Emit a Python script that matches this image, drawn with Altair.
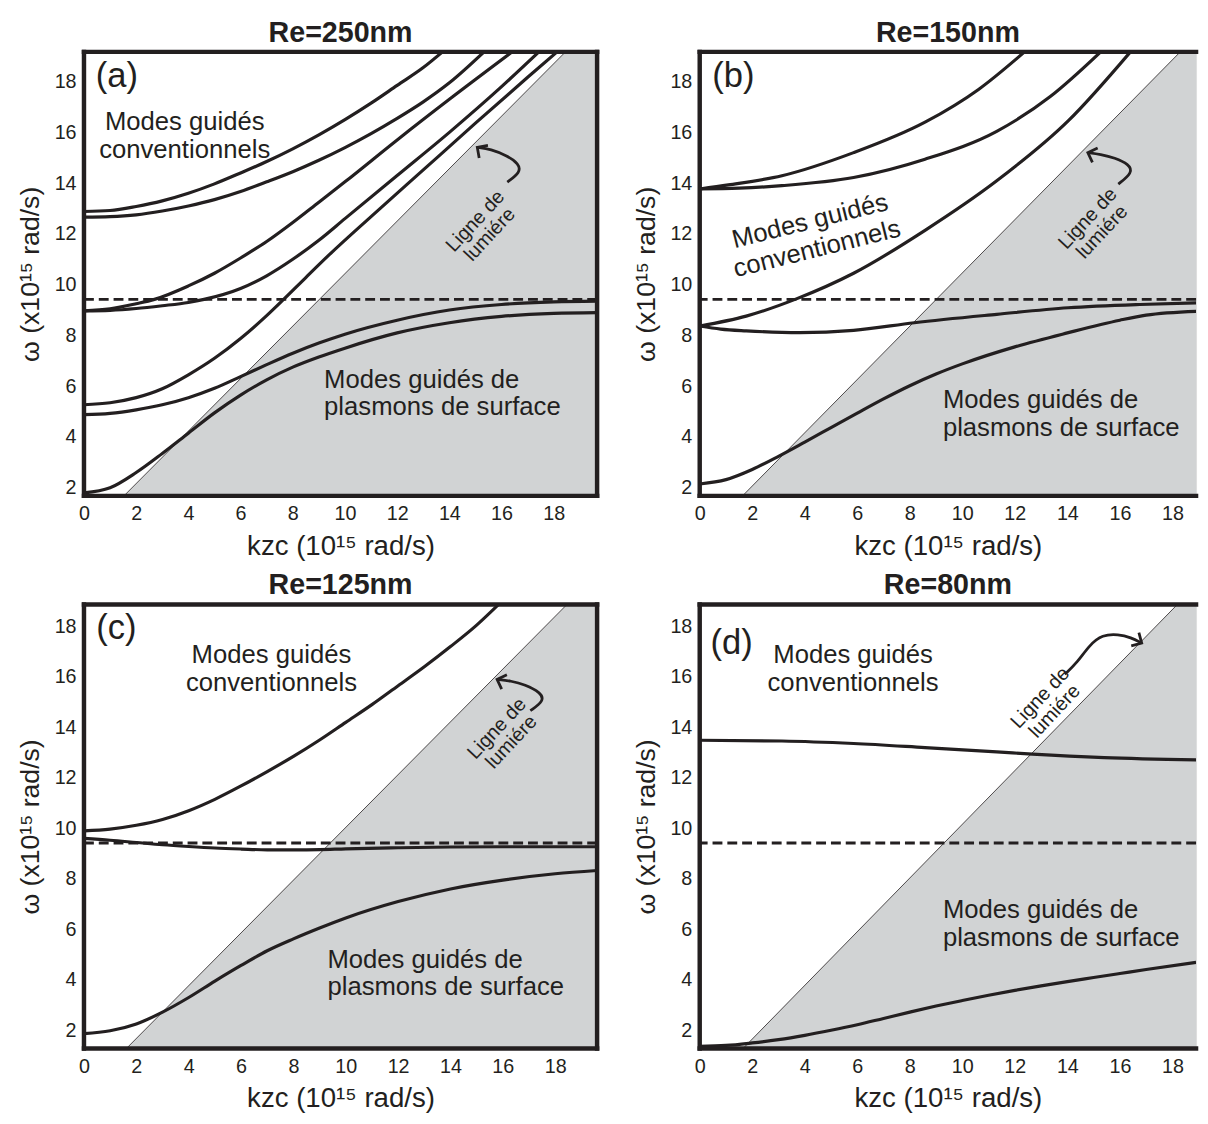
import altair as alt
import pandas as pd

FONT = "Liberation Sans"
INK = "#231f20"
GRAY = "#d1d3d4"

X_TICKS = [0, 2, 4, 6, 8, 10, 12, 14, 16, 18]
Y_TICKS = [2, 4, 6, 8, 10, 12, 14, 16, 18]
X_TITLE = "kzc (10¹⁵ rad/s)"
Y_TITLE = "ω (x10¹⁵ rad/s)"
DASH_W = 9.42

# ---------------- panel (a) Re=250nm ----------------
A_TITLE = "Re=250nm"
A_RANGE_K = [0, 19.66]
A_RANGE_W = [1.68, 19.17]
A_LIGHT_K = [1.53, 18.45]
A_LIGHT_W = [1.68, 19.17]
A1_K = [0, 1, 2, 3, 4, 5, 6, 7, 8, 9, 10, 11, 12, 13, 13.74]
A1_W = [12.88, 12.92, 13.08, 13.3, 13.6, 13.97, 14.4, 14.85, 15.35, 15.9, 16.5, 17.15, 17.85, 18.55, 19.17]
A2_K = [0, 1, 2, 3, 4, 5, 6, 7, 8, 9, 10, 11, 12, 13, 14, 15.33]
A2_W = [12.66, 12.68, 12.75, 12.9, 13.1, 13.35, 13.67, 14.05, 14.45, 14.9, 15.4, 15.95, 16.55, 17.2, 17.95, 19.17]
A3_K = [0, 1, 2, 2.7, 4, 5, 6, 7, 8, 9, 10, 12, 14, 16.41]
A3_W = [8.97, 9.05, 9.25, 9.42, 9.95, 10.45, 11.05, 11.7, 12.45, 13.25, 14.05, 15.7, 17.3, 19.17]
A4_K = [0, 1, 2, 3, 4, 4.6, 6, 7, 8, 9, 10, 12, 14, 16, 17.43]
A4_W = [8.97, 8.99, 9.06, 9.17, 9.3, 9.42, 9.85, 10.35, 11.0, 11.75, 12.6, 14.3, 16.0, 17.8, 19.17]
A5_K = [0, 1, 2, 3, 4, 5, 6, 7, 7.65, 8.5, 9.35, 11, 13, 15, 17, 18.13]
A5_W = [5.27, 5.35, 5.55, 5.9, 6.45, 7.1, 7.88, 8.78, 9.42, 10.28, 11.13, 12.68, 14.52, 16.36, 18.17, 19.17]
A6_K = [0, 1, 2, 3, 4, 5, 6, 7, 8, 9, 10, 12, 14, 16, 18, 19.66]
A6_W = [4.88, 4.93, 5.07, 5.27, 5.55, 5.92, 6.38, 6.85, 7.3, 7.7, 8.05, 8.6, 9.0, 9.22, 9.32, 9.35]
A7_K = [0, 1, 2, 3, 4, 5, 6, 7, 8, 9, 10, 12, 14, 16, 18, 19.66]
A7_W = [1.8, 2.0, 2.6, 3.35, 4.15, 4.95, 5.65, 6.25, 6.75, 7.15, 7.5, 8.1, 8.5, 8.75, 8.87, 8.9]
A_ARROW_K = [16.22, 16.73, 16.66, 16.22, 15.58, 15.07]
A_ARROW_W = [14.04, 14.43, 14.76, 15.08, 15.34, 15.41]

# ---------------- panel (b) Re=150nm ----------------
B_TITLE = "Re=150nm"
B_RANGE_K = [0, 18.9]
B_RANGE_W = [1.68, 19.17]
B_LIGHT_K = [1.63, 18.3]
B_LIGHT_W = [1.68, 19.17]
B1_K = [0, 1.09, 3.13, 5.86, 8.58, 10.63, 12.37]
B1_W = [13.77, 13.93, 14.29, 15.2, 16.4, 17.7, 19.17]
B2_K = [0, 1.5, 3.13, 5.86, 8.58, 11.31, 13.35, 15.27]
B2_W = [13.77, 13.8, 13.9, 14.22, 14.94, 16.04, 17.41, 19.17]
B3_K = [0, 1.77, 3.68, 5.86, 8.58, 11.31, 14.03, 16.4]
B3_W = [8.37, 8.76, 9.44, 10.45, 12.14, 14.09, 16.45, 19.17]
B4_K = [0, 0.8, 1.77, 3.81, 5.86, 8.17, 11.31, 14.03, 16.76, 18.9]
B4_W = [8.37, 8.25, 8.18, 8.11, 8.2, 8.5, 8.83, 9.09, 9.22, 9.28]
B5_K = [0, 1, 2, 3, 4, 5, 6, 7, 8, 9, 10, 12, 14, 16, 17, 18.9]
B5_W = [2.15, 2.32, 2.72, 3.24, 3.8, 4.37, 4.94, 5.5, 6.02, 6.48, 6.88, 7.55, 8.1, 8.6, 8.8, 8.95]
B_ARROW_K = [15.94, 16.49, 16.35, 15.8, 15.26, 14.78]
B_ARROW_W = [13.96, 14.42, 14.74, 15.0, 15.13, 15.2]

# ---------------- panel (c) Re=125nm ----------------
C_TITLE = "Re=125nm"
C_RANGE_K = [0, 19.6]
C_RANGE_W = [1.28, 18.87]
C_LIGHT_K = [1.62, 18.45]
C_LIGHT_W = [1.28, 18.87]
C1_K = [0, 1, 2, 3, 4, 5, 6, 7, 8, 9, 10, 11, 12, 13, 14, 15, 15.84]
C1_W = [9.9, 9.97, 10.12, 10.35, 10.7, 11.15, 11.68, 12.25, 12.85, 13.5, 14.2, 14.9, 15.65, 16.4, 17.2, 18.05, 18.87]
C2_K = [0, 1, 2, 3, 4, 5, 6, 7, 8, 9, 10, 12, 14, 16, 19.6]
C2_W = [9.6, 9.53, 9.44, 9.35, 9.28, 9.22, 9.18, 9.15, 9.15, 9.16, 9.19, 9.23, 9.26, 9.27, 9.27]
C3_K = [0, 1, 2, 3, 4, 5, 6, 7, 8, 9, 10, 12, 14, 16, 18, 19.6]
C3_W = [1.87, 1.98, 2.25, 2.72, 3.3, 3.95, 4.57, 5.15, 5.62, 6.05, 6.45, 7.1, 7.6, 7.95, 8.2, 8.33]
C_ARROW_K = [17.05, 17.58, 17.45, 16.84, 16.31, 15.78]
C_ARROW_W = [14.66, 15.05, 15.38, 15.7, 15.84, 15.9]

# ---------------- panel (d) Re=80nm ----------------
D_TITLE = "Re=80nm"
D_RANGE_K = [0, 18.9]
D_RANGE_W = [1.28, 18.87]
D_LIGHT_K = [1.65, 18.19]
D_LIGHT_W = [1.28, 18.87]
D1_K = [0, 3.13, 5.86, 8.58, 11.31, 12.67, 15.4, 18.9]
D1_W = [13.49, 13.46, 13.36, 13.2, 13.03, 12.94, 12.8, 12.71]
D2_K = [0, 1, 2, 3, 4, 5, 6, 7, 8, 9, 10, 11, 12, 13, 14, 15, 16, 17, 18.9]
D2_W = [1.37, 1.4, 1.5, 1.63, 1.8, 2.0, 2.22, 2.47, 2.72, 2.96, 3.18, 3.39, 3.58, 3.76, 3.93, 4.09, 4.25, 4.41, 4.69]
D_ARROW_K = [13.9, 14.37, 14.85, 15.33, 15.94, 16.42, 16.83]
D_ARROW_W = [16.1, 16.56, 17.27, 17.67, 17.69, 17.56, 17.34]

CHEVRON = "M-1,-1L0,0L-1,1"


def xenc(scale):
    return alt.X("k:Q", scale=scale, axis=alt.Axis(
        values=X_TICKS, title=X_TITLE, labelFontSize=20, titleFontSize=28,
        titleFontWeight="normal", ticks=False, domain=False, grid=False,
        labelPadding=8, titlePadding=9, labelFlush=False, labelOverlap=False,
        labelColor=INK, titleColor=INK, labelFont=FONT, titleFont=FONT))


def yenc(scale):
    return alt.Y("w:Q", scale=scale, axis=alt.Axis(
        values=Y_TICKS, title=Y_TITLE, labelFontSize=20, titleFontSize=27,
        titleFontWeight="normal", ticks=False, domain=False, grid=False,
        labelPadding=8, titlePadding=10, labelFlush=False, labelOverlap=False,
        labelColor=INK, titleColor=INK, labelFont=FONT, titleFont=FONT))


def text_layer(k, w, txt, xs, ys, size=26, angle=0, align="center", lh=28):
    df = pd.DataFrame({"k": [k], "w": [w], "t": [txt]})
    props = dict(fontSize=size, align=align, baseline="middle", color=INK,
                 font=FONT, lineBreak="\n", lineHeight=lh)
    if angle:
        props["angle"] = angle
    return alt.Chart(df).mark_text(**props).encode(x=xenc(xs), y=yenc(ys), text="t:N")


def panel(title, tag, rk, rw, lk, lw, curves, arrow_k, arrow_w, head_angle,
          tag_pos, conv_pos, conv_angle, surf_pos, light_pos, light_angle,
          width, right_border=True):
    xs = alt.Scale(domain=rk, nice=False, zero=False)
    ys = alt.Scale(domain=rw, nice=False, zero=False)

    shade = pd.DataFrame({"k": [lk[0], lk[1], rk[1]],
                          "w": [rw[0], rw[1], rw[1]],
                          "w2": [rw[0]] * 3})
    area = alt.Chart(shade).mark_area(color=GRAY, opacity=1).encode(
        x=xenc(xs), y=yenc(ys), y2="w2:Q")

    light = alt.Chart(pd.DataFrame({"k": lk, "w": lw})).mark_line(
        color=INK, strokeWidth=0.8).encode(x=xenc(xs), y=yenc(ys))

    dashed = alt.Chart(pd.DataFrame({"w": [DASH_W]})).mark_rule(
        color=INK, strokeWidth=3, strokeDash=[10, 5]).encode(y=yenc(ys))

    rows = []
    for i, (ck, cw) in enumerate(curves):
        for a, b in zip(ck, cw):
            rows.append({"c": i, "k": a, "w": b})
    lines = alt.Chart(pd.DataFrame(rows)).mark_line(
        color=INK, strokeWidth=3.2, interpolate="monotone", clip=True).encode(
        x=xenc(xs), y=yenc(ys), detail="c:N")

    adf = pd.DataFrame({"k": arrow_k, "w": arrow_w, "i": list(range(len(arrow_k)))})
    arrow = alt.Chart(adf).mark_line(color=INK, strokeWidth=2.8, interpolate="basis").encode(
        x=xenc(xs), y=yenc(ys), order="i:Q")
    head = alt.Chart(pd.DataFrame({"k": [arrow_k[-1]], "w": [arrow_w[-1]]})).mark_point(
        shape=CHEVRON, filled=False, color=INK, strokeWidth=2.8, size=240,
        angle=head_angle, opacity=1).encode(x=xenc(xs), y=yenc(ys))

    segs = [(rk[0], rw[0], rk[0], rw[1]), (rk[0], rw[1], rk[1], rw[1]),
            (rk[0], rw[0], rk[1], rw[0])]
    if right_border:
        segs.append((rk[1], rw[0], rk[1], rw[1]))
    fdf = pd.DataFrame(segs, columns=["k", "w", "k2", "w2"])
    frame = alt.Chart(fdf).mark_rule(color=INK, strokeWidth=4.5, strokeCap="square").encode(
        x=xenc(xs), y=yenc(ys), x2="k2:Q", y2="w2:Q")

    texts = [
        text_layer(tag_pos[0], tag_pos[1], tag, xs, ys, size=35, align="left"),
        text_layer(conv_pos[0], conv_pos[1], "Modes guidés\nconventionnels", xs, ys,
                   angle=conv_angle, lh=29),
        text_layer(surf_pos[0], surf_pos[1], "Modes guidés de\nplasmons de surface", xs, ys,
                   align="left", lh=28),
        text_layer(light_pos[0], light_pos[1], "Ligne de\nlumiére", xs, ys, size=20,
                   angle=light_angle, lh=20),
    ]

    return alt.layer(area, light, dashed, lines, arrow, head, *texts, frame).properties(
        width=width, height=450,
        title=alt.TitleParams(title, fontSize=29, fontWeight="bold", font=FONT,
                              color=INK, offset=1, anchor="middle"))


pa = panel(A_TITLE, "(a)", A_RANGE_K, A_RANGE_W, A_LIGHT_K, A_LIGHT_W,
           [(A1_K, A1_W), (A2_K, A2_W), (A3_K, A3_W), (A4_K, A4_W),
            (A5_K, A5_W), (A6_K, A6_W), (A7_K, A7_W)],
           A_ARROW_K, A_ARROW_W, 215,
           (0.45, 18.23), (3.86, 16.42), 0, (9.2, 6.26), (15.0, 12.5), 313, 520)
pb = panel(B_TITLE, "(b)", B_RANGE_K, B_RANGE_W, B_LIGHT_K, B_LIGHT_W,
           [(B1_K, B1_W), (B2_K, B2_W), (B3_K, B3_W), (B4_K, B4_W), (B5_K, B5_W)],
           B_ARROW_K, B_ARROW_W, 200,
           (0.48, 18.2), (4.2, 12.5), 346, (9.26, 5.45), (14.78, 12.6), 313, 503,
           right_border=False)
pc = panel(C_TITLE, "(c)", C_RANGE_K, C_RANGE_W, C_LIGHT_K, C_LIGHT_W,
           [(C1_K, C1_W), (C2_K, C2_W), (C3_K, C3_W)],
           C_ARROW_K, C_ARROW_W, 200,
           (0.47, 17.94), (7.16, 16.88), 0, (9.3, 4.8), (15.78, 13.95), 313, 520)
pd_ = panel(D_TITLE, "(d)", D_RANGE_K, D_RANGE_W, D_LIGHT_K, D_LIGHT_W,
            [(D1_K, D1_W), (D2_K, D2_W)],
            D_ARROW_K, D_ARROW_W, 30,
            (0.41, 17.34), (5.84, 16.87), 0, (9.26, 6.76), (12.97, 15.17), 313, 503,
            right_border=False)

row1 = alt.hconcat(pa, pb, spacing=31)
row2 = alt.hconcat(pc, pd_, spacing=31)
chart = alt.vconcat(row1, row2, spacing=10).properties(
    padding={"left": 8, "top": 3, "right": 0, "bottom": -4}
).configure_view(stroke=None).configure(font=FONT)

chart.save("out.html", embed_options={"renderer": "svg", "actions": False})
